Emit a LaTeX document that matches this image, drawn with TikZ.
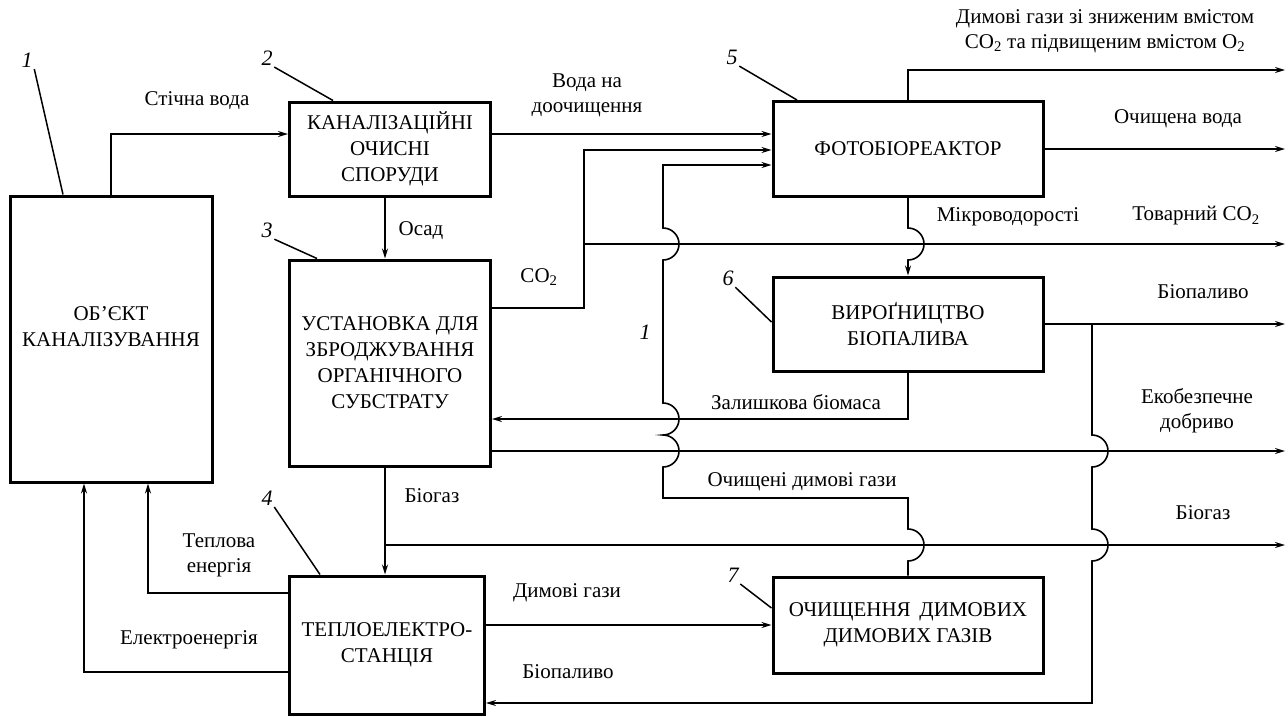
\documentclass[tikz,border=0pt]{standalone}
\usepackage{fontspec}
\setmainfont{Liberation Serif}
\usetikzlibrary{arrows.meta}
\tikzset{
    ->,                                         % every connector is directed
    >={Stealth[length=10pt,width=6pt]},         % small filled arrow heads
    block/.style={draw, line width=3pt, align=center, font=\fontsize{21}{26}\selectfont},
    num/.style={font=\fontsize{22}{26}\selectfont\itshape, inner sep=1pt},
    leader/.style={-, line width=1.5pt},
    lbl/.style={align=center, inner sep=1pt},
}

\begin{document}
\begin{tikzpicture}[x=1pt, y=-1pt, line width=1.6pt, font=\fontsize{21}{25}\selectfont]
\useasboundingbox (0,0) rectangle (1288,716);

% blocks
\node[block, minimum width=202pt, minimum height=286pt, text depth=24pt] (obj) at (111,339) {ОБ’ЄКТ\\КАНАЛІЗУВАННЯ};
\node[block, minimum width=201pt, minimum height=94pt] (kos) at (390,149) {КАНАЛІЗАЦІЙНІ\\ОЧИСНІ\\СПОРУДИ};
\node[block, minimum width=201pt, minimum height=206pt] (ust) at (390,363) {УСТАНОВКА ДЛЯ\\ЗБРОДЖУВАННЯ\\ОРГАНІЧНОГО\\СУБСТРАТУ};
\node[block, minimum width=195pt, minimum height=138pt] (tes) at (387,645) {ТЕПЛОЕЛЕКТРО-\\СТАНЦІЯ};
\node[block, minimum width=270pt, minimum height=95pt] (pbr) at (908,149) {ФОТОБІОРЕАКТОР};
\node[block, minimum width=270pt, minimum height=94pt] (bio) at (908,324) {ВИРОҐНИЦТВО\\БІОПАЛИВА};
\node[block, minimum width=270pt, minimum height=96pt] (och) at (908,625) {ОЧИЩЕННЯ\, ДИМОВИХ\\ДИМОВИХ ГАЗІВ};

% numbers
\node[num] (n1) at (27,60) {1};
\node[num] (n2) at (267,58) {2};
\node[num] (n3) at (267,230) {3};
\node[num] (n4) at (267,498) {4};
\node[num] (n5) at (732,57) {5};
\node[num] (n6) at (728,278) {6};
\node[num] (n7) at (733,575) {7};
\node[num] (n1b) at (645,332) {1};
\draw[leader] (n1.south east) -- (obj.north -| 63,0);
\draw[leader] (n2.south east) -- (kos.north -| 333,0);
\draw[leader] (n3.south east) -- (ust.north -| 317,0);
\draw[leader] (n4.south east) -- (tes.north -| 320,0);
\draw[leader] (n5.south east) -- (pbr.north -| 797,0);
\draw[leader] (n6.south east) -- (bio.west |- 0,322);
\draw[leader] (n7.south east) -- (och.west |- 0,608);

% free ends on the right
\coordinate (outtop) at (1285,70);
\coordinate (outwater) at (1285,149);
\coordinate (outco2) at (1285,244);
\coordinate (outfuel) at (1285,324);
\coordinate (outfert) at (1285,451);
\coordinate (outgas) at (1285,545);
\coordinate (co2) at (584,244);
\coordinate (fuel) at (1092,324);
\coordinate (gas) at (385,545);

% connectors
\draw (obj.north) |- (kos.west |- 0,134);
\draw (kos.east |- 0,134) -- (pbr.west |- 0,134);
\draw (kos.south -| 385,0) -- (ust.north -| 385,0);
\draw (ust.east |- 0,308) -| (co2) |- (pbr.west |- 0,150);
\draw (co2) -- (outco2);
\draw (och.north) -- (908,561) arc[start angle=90, end angle=-90, radius=16] -- (908,498) -- (663,498)
    -- (663,467) arc[start angle=90, end angle=-90, radius=16]
    arc[start angle=90, end angle=-90, radius=16] -- (663,260)
    arc[start angle=90, end angle=-90, radius=16] -- (663,165) -- (pbr.west |- 0,165);
\draw (pbr.south) -- (908,228) arc[start angle=-90, end angle=90, radius=16] -- (bio.north);
\draw (pbr.north) |- (outtop);
\draw (pbr.east) -- (outwater);
\draw (bio.east) -- (outfuel);
\draw (fuel) -- (1092,435) arc[start angle=-90, end angle=90, radius=16] -- (1092,529)
    arc[start angle=-90, end angle=90, radius=16] -- (1092,703) -- (tes.east |- 0,703);
\draw (bio.south) |- (ust.east |- 0,419);
\draw (ust.east |- 0,451) -- (outfert);
\draw (ust.south -| 385,0) -- (tes.north -| 385,0);
\draw (gas) -- (outgas);
\draw (tes.east |- 0,625) -- (och.west);
\draw (tes.west |- 0,593) -| (obj.south -| 148,0);
\draw (tes.west |- 0,672) -| (obj.south -| 84,0);

% labels
\node[lbl] (lsew) at (197,101) {Стічна вода};
\node[lbl] (lpost) at (587,95) {Вода на\\доочищення};
\node[lbl] (lsed) at (421,231) {Осад};
\node[lbl] (lco2) at (539,277) {CO\textsubscript{2}};
\node[lbl] (lflue) at (1105,31) {Димові гази зі зниженим вмістом\\CO\textsubscript{2} та підвищеним вмістом O\textsubscript{2}};
\node[lbl] (lwater) at (1178,119) {Очищена вода};
\node[lbl] (lalg) at (1008,217) {Мікроводорості};
\node[lbl] (lco2c) at (1196,216) {Товарний CO\textsubscript{2}};
\node[lbl] (lfuel) at (1203,292) {Біопаливо};
\node[lbl] (lres) at (796,402) {Залишкова біомаса};
\node[lbl] (lfert) at (1197,411) {Екобезпечне\\добриво};
\node[lbl] (lclean) at (802,482) {Очищені димові гази};
\node[lbl] (lgas) at (432,496) {Біогаз};
\node[lbl] (lgasr) at (1203,513) {Біогаз};
\node[lbl] (lheat) at (219,555) {Теплова\\енергія};
\node[lbl] (lflue2) at (567,593) {Димові гази};
\node[lbl] (lel) at (189,640) {Електроенергія};
\node[lbl] (lfuel2) at (568,672) {Біопаливо};

\end{tikzpicture}
\end{document}
